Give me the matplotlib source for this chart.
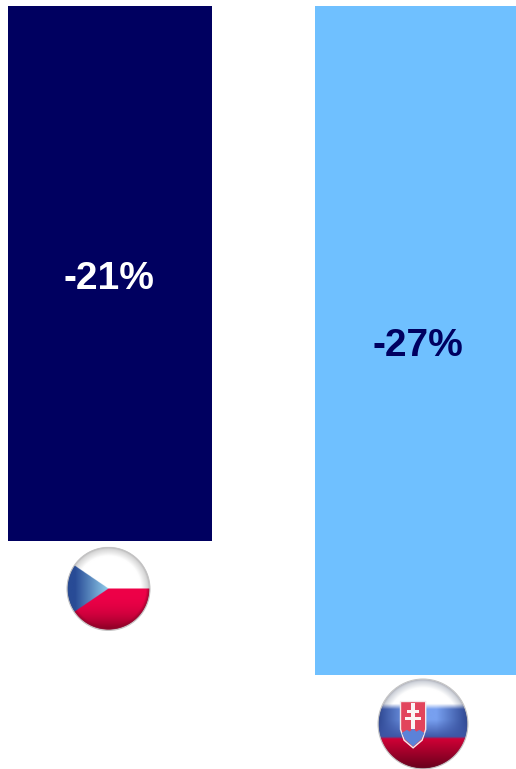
import numpy as np
import matplotlib
matplotlib.use("Agg")
import matplotlib.pyplot as plt
from matplotlib.patches import Circle, Polygon, Rectangle

countries = ["Czech Republic", "Slovakia"]
changes = [-21, -27]
bar_colors = ["#000060", "#6FC0FF"]
label_colors = ["#FFFFFF", "#000060"]

W, H = 516, 769
fig = plt.figure(figsize=(W / 100, H / 100), dpi=100, facecolor="white")
ax = fig.add_axes([0, 0, 1, 1])

# Bars hang from a common line above zero, so the value axis is offset
baseline = 2.955
px_per_pct = 134 / 6
px_per_cat = 305.5
ax.set_xlim(-110 / px_per_cat, (W - 110) / px_per_cat)
ax.set_ylim(-21 - (H - 541) / px_per_pct, -21 + 541 / px_per_pct)
ax.axis("off")

positions = np.arange(len(countries))
widths = [204 / px_per_cat, 201 / px_per_cat]
for pos, val, w, col, lab_col, dx in zip(positions, changes, widths, bar_colors,
                                         label_colors, (-1, 2.5)):
    ax.bar(pos, val - baseline, width=w, bottom=baseline, color=col, linewidth=0)
    ax.annotate(f"{val}%", (pos, (val + baseline) / 2), xytext=(dx * 0.72, -4.2),
                textcoords="offset points", ha="center", va="center",
                fontsize=28, fontweight="bold", color=lab_col,
                family="Liberation Sans")


def sphere_grid(n=320):
    v = np.linspace(-1.04, 1.04, n)
    return np.meshgrid(v, v)


def mix(a, b, t):
    t = np.clip(t, 0, 1)[..., None]
    return np.asarray(a, float) * (1 - t) + np.asarray(b, float) * t


def badge_axes(cx, cy, r):
    """Square axes around a round badge, positioned in figure pixels."""
    s = r * 1.04
    a = fig.add_axes([(cx - s) / W, 1 - (cy + s) / H, 2 * s / W, 2 * s / H])
    a.axis("off")
    return a


def finish_badge(a, rgb, rr):
    alpha = np.clip((1.0 - rr) * 60, 0, 1)
    rim = np.clip((rr - 0.92) / 0.08, 0, 1)
    rgb = mix(rgb, np.array([90, 80, 90.0]), rim ** 3 * 0.4)
    img = np.dstack([rgb / 255, alpha])
    a.imshow(img, extent=(-1.04, 1.04, 1.04, -1.04), interpolation="antialiased",
             zorder=1)
    a.add_patch(Circle((0, 0), 1.0, fill=False, ec="#C4C4C4", lw=0.7, zorder=7))
    a.set_xlim(-1.04, 1.04)
    a.set_ylim(1.04, -1.04)


X, Y = sphere_grid()
R = np.hypot(X, Y)

# Czech flag badge
a1 = badge_axes(108.5, 589, 41.5)
white = mix([255, 255, 255], [200, 200, 200], (R - 0.78) / 0.22)
red = mix([238, 0, 72], [135, 0, 35], (np.maximum(Y, 0) / 0.98) ** 2.6)
red = mix(red, [150, 0, 40], (R - 0.9) / 0.1)
blue = mix([40, 75, 150], [145, 205, 235], (X + 0.8) / 0.8)
tri = (X < 0) & (np.abs(Y) < -X * 0.68)
rgb = np.where((Y < 0)[..., None], white, red)
rgb = np.where(tri[..., None], blue, rgb)
finish_badge(a1, rgb, R)

# Slovak flag badge: the white band fades softly into the blue one
a2 = badge_axes(423, 724, 45)
top = mix([255, 255, 255], [190, 195, 205], (R - 0.8) / 0.2)
mid = mix([120, 160, 240], [45, 70, 145], (np.abs(X) - 0.3) / 0.7)
mid = mix(mid, [60, 85, 165], (Y + 0.1) / 0.4)
low = mix([212, 0, 55], [105, 0, 28], (Y - 0.3) / 0.68)
rgb = mix(top, mid, (Y + 0.45) / 0.12)
rgb = mix(rgb, low, (Y - 0.28) / 0.05)
finish_badge(a2, rgb, R)

# Shield and its double cross
shield = [(-0.5, -0.5), (0.06, -0.5), (0.06, 0.12), (-0.02, 0.36), (-0.22, 0.53),
          (-0.42, 0.36), (-0.5, 0.12)]
a2.add_patch(Polygon(shield, closed=True, fc="#E2445C", ec="#F4E8EA", lw=1.0, zorder=3))
hills = [(-0.47, 0.2), (-0.36, 0.13), (-0.29, 0.17), (-0.22, 0.09), (-0.15, 0.17),
         (-0.08, 0.13), (0.03, 0.2), (-0.04, 0.34), (-0.22, 0.5), (-0.4, 0.34)]
a2.add_patch(Polygon(hills, closed=True, fc="#5B82D8", ec="none", zorder=4))
for x, y, w, h in [(-0.26, -0.47, 0.08, 0.58), (-0.36, -0.31, 0.28, 0.07),
                   (-0.4, -0.16, 0.36, 0.08)]:
    a2.add_patch(Rectangle((x, y), w, h, fc="#FBF4F4", ec="none", zorder=5))

fig.savefig("out.png", dpi=100, facecolor="white")
